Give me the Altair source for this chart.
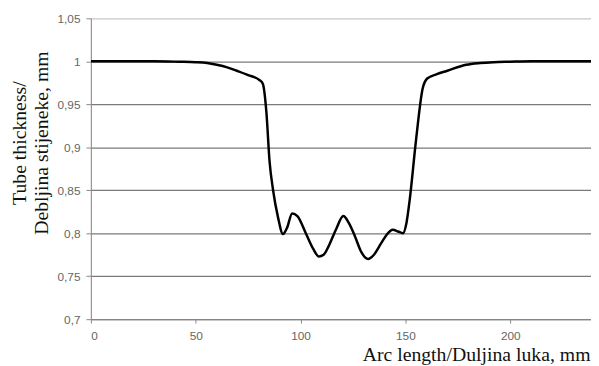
import altair as alt
import pandas as pd

arc_length = [0, 10, 20, 30, 42, 50, 55.5, 60, 65, 69.6, 75, 80.5, 82, 83.7, 85.2, 86.9, 89.2, 91.6, 93.5,
              96, 98.5, 102.5, 106, 108.7, 111, 113.4, 117, 120.4, 123, 126, 129, 132.2, 135, 138.6, 141,
              144, 146.5, 148.8, 150.5, 152, 155, 158.2, 160.4, 165, 170, 179, 185.6, 192, 199.8, 210, 225, 240]
thickness = [1.0, 1.0, 1.0, 1.0, 0.9995, 0.999, 0.998, 0.996, 0.993, 0.989, 0.984, 0.978, 0.974, 0.941, 0.884,
             0.85, 0.819, 0.799, 0.806, 0.823, 0.82, 0.80, 0.782, 0.773, 0.775, 0.785, 0.805, 0.82, 0.812, 0.796,
             0.778, 0.77, 0.775, 0.789, 0.798, 0.804, 0.802, 0.80, 0.812, 0.838, 0.907, 0.968, 0.98, 0.985,
             0.989, 0.996, 0.998, 0.999, 0.9995, 1.0, 1.0, 1.0]

df = pd.DataFrame({"x": arc_length, "y": thickness})

chart = alt.Chart(df).mark_line(color="black", strokeWidth=2.5, interpolate="monotone", clip=True).encode(
    x=alt.X("x:Q", scale=alt.Scale(domain=[0, 238.5], nice=False, zero=False),
            axis=alt.Axis(values=[0, 50, 100, 150, 200], grid=False, domain=True, domainColor="#888",
                          tickColor="#888", tickSize=4, labelColor="#666", labelFont="Liberation Sans",
                          labelFontSize=12, labelPadding=8,
                          title="Arc length/Duljina luka, mm", titleFont="Liberation Serif",
                          titleFontSize=20, titleFontWeight="normal", titleColor="#111",
                          titleAnchor="end", titleAlign="right", titleX=506, titleY=42,
                          titleBaseline="alphabetic")),
    y=alt.Y("y:Q", scale=alt.Scale(domain=[0.7, 1.05], nice=False, zero=False),
            axis=alt.Axis(values=[0.7, 0.75, 0.8, 0.85, 0.9, 0.95, 1.0, 1.05],
                          labelExpr="replace(format(datum.value, ''), '.', ',')",
                          grid=True, gridColor={"expr": "datum.value > 1.04 ? '#d0d0d0' : '#7a7a7a'"},
                          gridWidth=1.3, domain=True, domainColor="#888", tickColor="#888", tickSize=5,
                          labelColor="#666", labelFont="Liberation Sans", labelFontSize=12, labelPadding=6,
                          title=["Tube thickness/", "Debljina stijeneke, mm"], titleFont="Liberation Serif",
                          titleFontSize=20, titleFontWeight="normal", titleColor="#111", titleAngle=-90,
                          titleAlign="center", titleBaseline="top", titleX=-82, titleY=126, titleLineHeight=22)),
).properties(
    width=507, height=305,
    autosize=alt.AutoSizeParams(type="none"),
    padding={"left": 84, "top": 8, "right": 0, "bottom": 45},
).configure_view(stroke=None).configure(background="white")

chart.save("out.html", embed_options={"renderer": "svg", "actions": False})
